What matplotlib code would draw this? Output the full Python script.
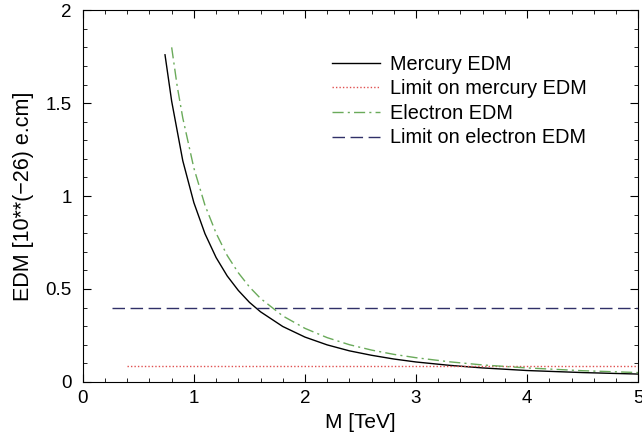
import matplotlib
matplotlib.use("Agg")
import matplotlib.pyplot as plt
from matplotlib.ticker import MultipleLocator

plt.rcParams['font.family'] = ['Liberation Sans', 'DejaVu Sans']

# values
m_mercury = [0.74, 0.8, 0.9, 1.0, 1.1, 1.2, 1.3, 1.4, 1.5, 1.6, 1.8, 2.0,
             2.2, 2.4, 2.6, 2.8, 3.0, 3.3, 3.6, 4.0, 4.5, 5.0]
edm_mercury = [1.76, 1.51, 1.19, 0.964, 0.797, 0.669, 0.570, 0.492, 0.428,
               0.377, 0.298, 0.241, 0.199, 0.167, 0.143, 0.123, 0.107,
               0.089, 0.075, 0.061, 0.050, 0.042]

m_electron = [0.80, 0.85, 0.9, 1.0, 1.1, 1.2, 1.3, 1.4, 1.5, 1.6, 1.8, 2.0,
              2.2, 2.4, 2.6, 2.8, 3.0, 3.3, 3.6, 4.0, 4.5, 5.0]
edm_electron = [1.80, 1.59, 1.42, 1.15, 0.95, 0.80, 0.68, 0.587, 0.511,
                0.449, 0.355, 0.288, 0.238, 0.200, 0.171, 0.148, 0.130,
                0.108, 0.091, 0.075, 0.060, 0.050]

limit_mercury_x = [0.4, 5.0]
limit_mercury = [0.088, 0.088]
limit_electron_x = [0.26, 5.0]
limit_electron = [0.40, 0.40]

fig = plt.figure(figsize=(6.42, 4.43), dpi=100)
ax = fig.add_axes([0.129, 0.138, 0.865, 0.839])

ax.plot(m_mercury, edm_mercury, color='black', lw=1.0, label='Mercury EDM')
ax.plot(limit_mercury_x, limit_mercury, color='#e05050', lw=1.0,
        linestyle=(0, (1, 1.5)), label='Limit on mercury EDM')
ax.plot(m_electron, edm_electron, color='#6aaa5a', lw=1.0,
        linestyle=(0, (8, 3, 1.5, 3)), label='Electron EDM')
ax.plot(limit_electron_x, limit_electron, color='#303068', lw=1.0,
        linestyle=(0, (9, 4)), label='Limit on electron EDM')

ax.set_xlim(0, 5)
ax.set_ylim(0, 2)
ax.xaxis.set_major_locator(MultipleLocator(1))
ax.xaxis.set_minor_locator(MultipleLocator(0.2))
ax.yaxis.set_major_locator(MultipleLocator(0.5))
ax.yaxis.set_minor_locator(MultipleLocator(0.1))
ax.xaxis.set_major_formatter(plt.FuncFormatter(lambda v, p: f"{v:g}"))
ax.yaxis.set_major_formatter(plt.FuncFormatter(lambda v, p: f"{v:g}"))
ax.tick_params(which='both', direction='in', top=True, right=True,
               labelsize=13.5)
ax.tick_params(which='major', length=6)
ax.tick_params(which='minor', length=3)
ax.tick_params(axis='x', pad=6)
ax.tick_params(axis='y', pad=8)

ax.set_xlabel('M [TeV]', fontsize=15, labelpad=4)
ax.set_ylabel('EDM [10**(\u221226) e.cm]', fontsize=15.5, labelpad=8)

ax.legend(loc='upper left', bbox_to_anchor=(0.449, 0.88), frameon=False,
          fontsize=14.3, handlelength=2.4, handletextpad=0.5,
          labelspacing=0.28, borderpad=0, borderaxespad=0)

fig.savefig('out.png', dpi=100)
